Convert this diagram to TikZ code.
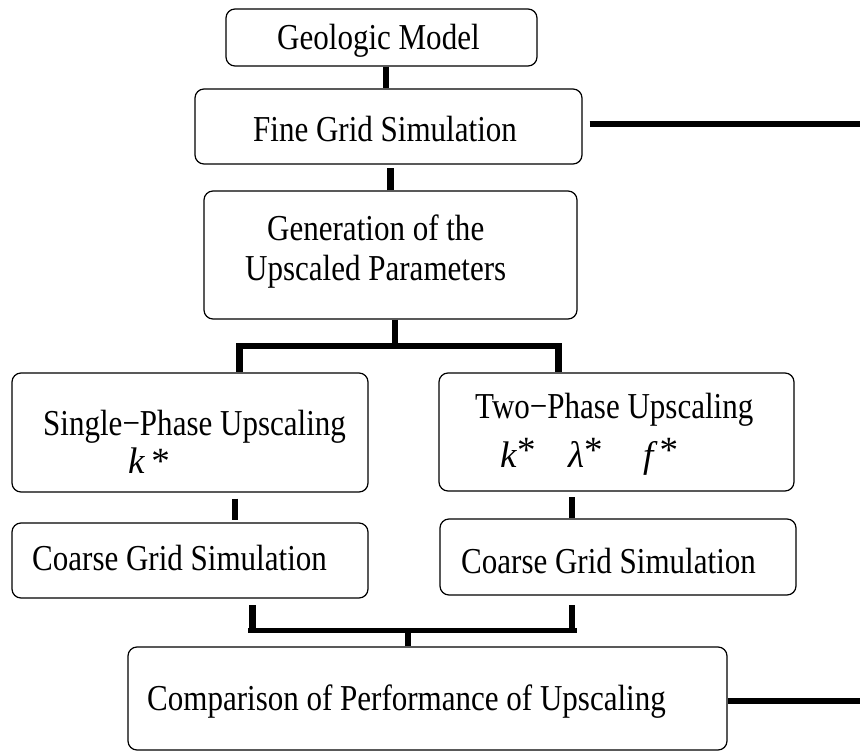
\documentclass[tikz,border=0pt]{standalone}
\usepackage{fontspec}
\setmainfont{Liberation Serif}[FakeStretch=0.85]
\newfontfamily\varsym{Liberation Serif}
\usetikzlibrary{calc}

\tikzset{
  box/.style={draw, line width=1.2pt, rounded corners=9pt, inner sep=0pt},
  lbl/.style={anchor=base west, inner sep=0pt},
  var/.style={lbl, font=\varsym\fontsize{37}{40}\selectfont},
  bar/.style={line width=6.5pt},
  hbar/.style={line width=5.5pt},
}

\begin{document}
\begin{tikzpicture}[x=1pt, y=-1pt, font=\fontsize{36.5}{40}\selectfont]
  \useasboundingbox (0,0) rectangle (860,752);
  % boxes
  \node[box, minimum width=311pt, minimum height=57pt]  (geo)     at (381.5,37.5) {};
  \node[box, minimum width=387pt, minimum height=75pt]  (fine)    at (388.5,126.5) {};
  \node[box, minimum width=373pt, minimum height=128pt] (gen)     at (390.5,255) {};
  \node[box, minimum width=356pt, minimum height=119pt] (single)  at (190,432.5) {};
  \node[box, minimum width=355pt, minimum height=118pt] (two)     at (616.5,432) {};
  \node[box, minimum width=356pt, minimum height=75pt]  (coarseL) at (190,560.5) {};
  \node[box, minimum width=356pt, minimum height=76pt]  (coarseR) at (618,557) {};
  \node[box, minimum width=599pt, minimum height=103pt] (comp)    at (427.5,698.5) {};
  % texts
  \node[lbl] (geoT)     at (277,50)  {Geologic Model};
  \node[lbl] (fineT)    at (253,141) {Fine Grid Simulation};
  \node[lbl] (genT)     at (267,240) {Generation of the};
  \node[lbl] (genU)     at (245,280) {Upscaled Parameters};
  \node[lbl] (singleT)  at (43,435)  {Single−Phase Upscaling};
  \node[var] (singleK)  at (128,473) {\textit{k}\,*};
  \node[lbl] (twoT)     at (475,418) {Two−Phase Upscaling};
  \node[var] (twoK)     at (500,467) {\textit{k}\raisebox{5pt}{*}};
  \node[var] (twoL)     at (568,467) {\textit{λ}\raisebox{5pt}{*}};
  \node[var] (twoF)     at (643,467) {\textit{f}\kern2pt\raisebox{5pt}{*}};
  \node[lbl] (coarseLT) at (32,570)  {Coarse Grid Simulation};
  \node[lbl] (coarseRT) at (461,573) {Coarse Grid Simulation};
  \node[lbl] (compT)    at (147,710) {Comparison of Performance of Upscaling};
  % junction points
  \coordinate (topL) at (236,346);
  \coordinate (topR) at (562,346);
  \coordinate (botL) at (248,630.5);
  \coordinate (botR) at (577,630.5);
  \coordinate (outA) at (860,124);
  \coordinate (outB) at (860,701);
  % top chain
  \draw[bar] ([xshift=4.5pt]geo.south) -- ([xshift=4.5pt]geo.south |- fine.north);
  \draw[bar] (gen.north) -- ++(0,-22);
  \draw[bar] ([xshift=7pt,yshift=2.5pt]fine.east) -- (outA);
  % split
  \draw[bar] ([xshift=4.5pt]gen.south) -- ([xshift=4.5pt]gen.south |- topL);
  \draw[hbar] (topL) -- (topR);
  \draw[bar] ([xshift=3.5pt]topL) -- ([xshift=3.5pt]topL |- single.north);
  \draw[bar] ([xshift=-3.5pt]topR) -- ([xshift=-3.5pt]topR |- two.north);
  % to coarse grid
  \draw[bar] ([xshift=45pt,yshift=-6pt]single.south) -- ++(0,21);
  \draw[bar] ([xshift=-46pt]coarseR.north) -- ++(0,-21);
  % merge
  \draw[bar] ([xshift=4.5pt]botL) -- ++(0,-26);
  \draw[bar] ([xshift=-5pt]botR) -- ++(0,-26);
  \draw[hbar] (botL) -- (botR);
  \draw[bar] ([xshift=-19.5pt]comp.north) -- ([xshift=-19.5pt]comp.north |- botL);
  \draw[bar] (comp.east |- outB) -- (outB);
\end{tikzpicture}
\end{document}
